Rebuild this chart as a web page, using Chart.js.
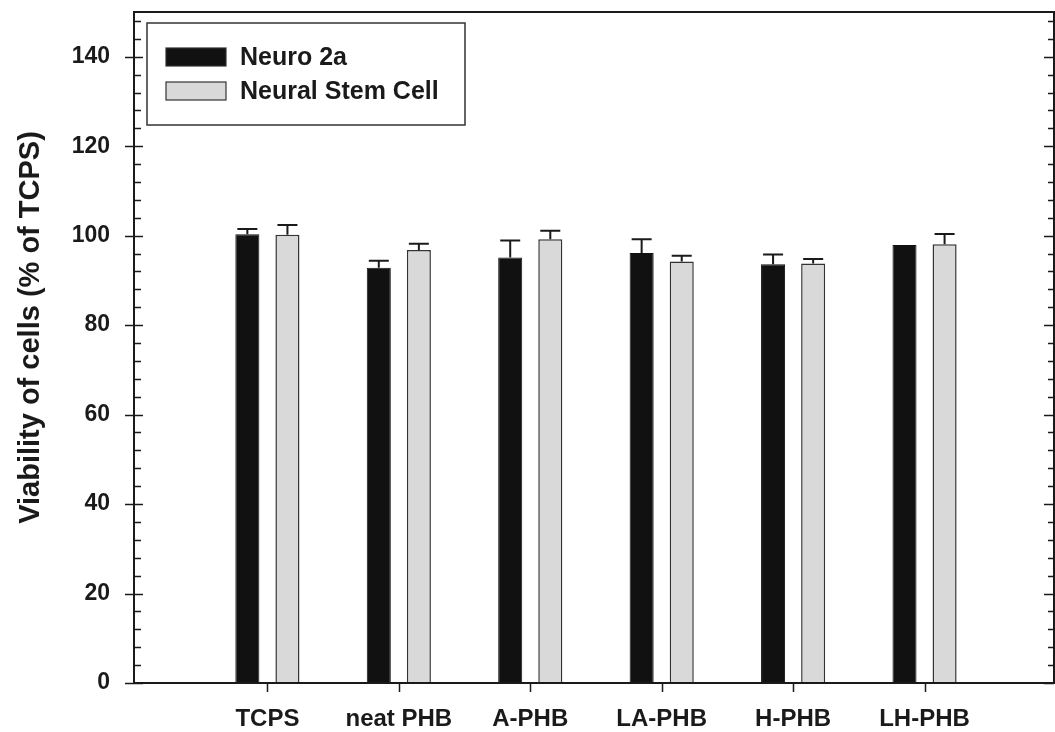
<!DOCTYPE html>
<html>
<head>
<meta charset="utf-8">
<script src="https://cdn.jsdelivr.net/npm/chart.js@4.4.0/dist/chart.umd.min.js"></script>
<style>
  html, body { margin: 0; padding: 0; background: #fff; }
  #wrap { width: 1055px; height: 732px; position: relative; }
</style>
</head>
<body>
<div id="wrap"><canvas id="chart"></canvas></div>
<script>
// data
const categories = ['TCPS', 'neat PHB', 'A-PHB', 'LA-PHB', 'H-PHB', 'LH-PHB'];
const neuro2a = [100.3, 92.8, 95.1, 96.1, 93.6, 97.9];
const neuro2aErr = [1.2, 1.6, 3.8, 3.1, 2.2, 0];
const stemCell = [100.2, 96.8, 99.2, 94.2, 93.8, 98.1];
const stemCellErr = [2.2, 1.4, 1.9, 1.3, 1.0, 2.3];
const yTicks = [0, 20, 40, 60, 80, 100, 120, 140];
const yTitle = 'Viability of cells (% of TCPS)';

const FONT = "'Liberation Sans', Arial, Helvetica, sans-serif";
const INK = '#1a1a1a';

const toPoints = vals => vals.map((v, i) => ({ x: i, y: v }));

// frame, inside minor ticks, category ticks, y title
const axesPlugin = {
    id: 'axesPlugin',
    afterDatasetsDraw(chart) {
        const { ctx, chartArea: a, scales: { x, y } } = chart;
        ctx.save();
        ctx.strokeStyle = INK;
        ctx.lineWidth = 2;
        ctx.strokeRect(a.left, a.top, a.right - a.left, a.bottom - a.top);

        ctx.lineWidth = 1.5;
        ctx.beginPath();
        for (let v = 0; v <= 150; v += 4) {
            const py = Math.round(y.getPixelForValue(v)) + 0.5;
            if (v % 20 === 0) {
                ctx.moveTo(a.left - 9, py); ctx.lineTo(a.left + 9, py);
                ctx.moveTo(a.right - 10, py); ctx.lineTo(a.right, py);
            } else {
                ctx.moveTo(a.left, py); ctx.lineTo(a.left + 7, py);
                ctx.moveTo(a.right - 6, py); ctx.lineTo(a.right, py);
            }
        }
        categories.forEach((c, i) => {
            const px = Math.round(x.getPixelForValue(i)) + 0.5;
            ctx.moveTo(px, a.bottom); ctx.lineTo(px, a.bottom + 9);
        });
        ctx.stroke();

        // rotated axis title, a bit above the plot centre like the original
        ctx.translate(31, (a.top + a.bottom) / 2 - 20);
        ctx.rotate(-Math.PI / 2);
        ctx.font = `bold 29px ${FONT}`;
        ctx.fillStyle = INK;
        ctx.textAlign = 'center';
        ctx.textBaseline = 'middle';
        ctx.fillText(yTitle, 0, 0);
        ctx.restore();
    }
};

// upper error bars on top of each bar
const errorBarPlugin = {
    id: 'errorBarPlugin',
    afterDatasetsDraw(chart) {
        const { ctx, scales: { y } } = chart;
        ctx.save();
        ctx.strokeStyle = INK;
        ctx.lineWidth = 2;
        chart.data.datasets.forEach((ds, di) => {
            const meta = chart.getDatasetMeta(di);
            meta.data.forEach((bar, i) => {
                if (!ds.errors[i]) return;
                const top = y.getPixelForValue(ds.data[i].y + ds.errors[i]);
                ctx.beginPath();
                ctx.moveTo(bar.x, bar.y);
                ctx.lineTo(bar.x, top);
                ctx.moveTo(bar.x - 10, top);
                ctx.lineTo(bar.x + 10, top);
                ctx.stroke();
            });
        });
        ctx.restore();
    }
};

// boxed legend in the upper left corner of the plot
const legendBoxPlugin = {
    id: 'legendBoxPlugin',
    afterDraw(chart) {
        const { ctx, chartArea: a } = chart;
        const left = a.left + 13, top = a.top + 11;
        ctx.save();
        ctx.strokeStyle = '#333';
        ctx.lineWidth = 1.5;
        ctx.strokeRect(left, top, 318, 102);
        ctx.font = `bold 25px ${FONT}`;
        ctx.textBaseline = 'middle';
        chart.data.datasets.forEach((ds, i) => {
            const sy = top + 25 + i * 34;
            ctx.fillStyle = ds.backgroundColor;
            ctx.fillRect(left + 19, sy, 60, 18);
            ctx.strokeStyle = '#333';
            ctx.lineWidth = 1.2;
            ctx.strokeRect(left + 19, sy, 60, 18);
            ctx.fillStyle = INK;
            ctx.fillText(ds.label, left + 93, sy + 10);
        });
        ctx.restore();
    }
};

new Chart(document.getElementById('chart'), {
    type: 'bar',
    data: {
        datasets: [{
            label: 'Neuro 2a',
            data: toPoints(neuro2a),
            errors: neuro2aErr,
            backgroundColor: '#111111',
            borderColor: '#111111',
            borderWidth: 1
        }, {
            label: 'Neural Stem Cell',
            data: toPoints(stemCell),
            errors: stemCellErr,
            backgroundColor: '#d9d9d9',
            borderColor: '#333333',
            borderWidth: 1.5
        }]
    },
    options: {
        responsive: true,
        maintainAspectRatio: false,
        animation: false,
        categoryPercentage: 0.61,
        barPercentage: 0.6,
        layout: { padding: { top: 12, right: 1, left: 0, bottom: 0 } },
        plugins: {
            legend: { display: false },
            tooltip: { enabled: false }
        },
        scales: {
            x: {
                type: 'linear',
                min: -1.015,
                max: 5.985,
                offset: false,
                grid: { display: false, drawTicks: false },
                border: { display: false },
                afterBuildTicks: s => { s.ticks = categories.map((c, i) => ({ value: i })); },
                afterFit: s => { s.height = 49; s.paddingLeft = 0; s.paddingRight = 0; },
                ticks: {
                    autoSkip: false,
                    maxRotation: 0,
                    padding: 22,
                    color: INK,
                    font: { family: FONT, size: 24, weight: 'bold' },
                    callback: v => categories[v] ?? ''
                }
            },
            y: {
                min: 0,
                max: 150,
                grid: { display: false, drawTicks: false },
                border: { display: false },
                afterBuildTicks: s => { s.ticks = yTicks.map(v => ({ value: v })); },
                afterFit: s => { s.width = 134; s.paddingTop = 0; s.paddingBottom = 0; },
                ticks: {
                    padding: 24,
                    color: INK,
                    font: { family: FONT, size: 23, weight: 'bold' }
                }
            }
        }
    },
    plugins: [axesPlugin, errorBarPlugin, legendBoxPlugin]
});
</script>
</body>
</html>
